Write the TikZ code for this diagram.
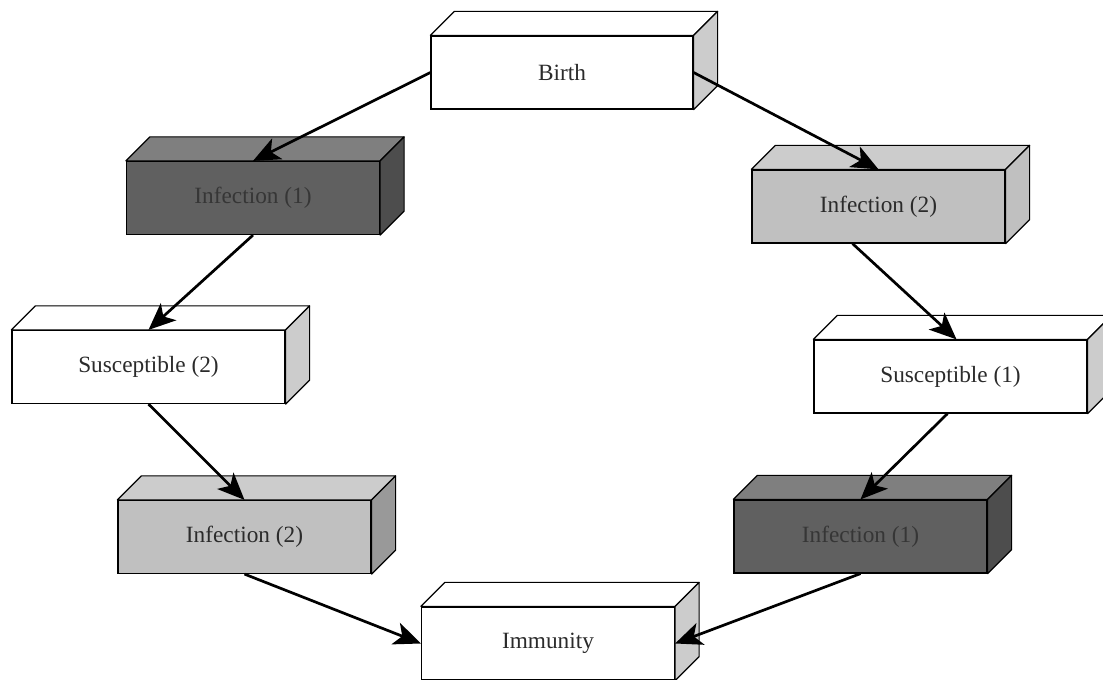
\documentclass[tikz,border=0pt]{standalone}
\usepackage{fontspec}
\setmainfont{Liberation Serif}
\usetikzlibrary{arrows.meta}

\definecolor{darkfront}{HTML}{606060}
\definecolor{darktop}{HTML}{7F7F7F}
\definecolor{darkside}{HTML}{4D4D4D}
\definecolor{lightfront}{HTML}{C0C0C0}
\definecolor{lighttop}{HTML}{CCCCCC}
\definecolor{lightside}{HTML}{999999}
\definecolor{whiteside}{HTML}{CCCCCC}
\definecolor{labeltext}{HTML}{2B2B2B}
\definecolor{darktext}{HTML}{363636}

\tikzset{
  box/.style={draw, line width=1.2pt, minimum width=253pt, minimum height=73pt,
    inner sep=0pt, text=labeltext, font=\fontsize{23.3}{28}\selectfont},
  whitebox/.style={box, fill=white},
  darkbox/.style={box, fill=darkfront, text=darktext},
  lightbox/.style={box, fill=lightfront},
  face/.style={draw, line width=1.2pt, line join=round},
  link/.style={-{Stealth[length=27pt,width=23pt,inset=7pt]}, line width=2.7pt},
}

\begin{document}
\begin{tikzpicture}[x=1pt,y=1pt]
\useasboundingbox (0,0) rectangle (1103,680);

% front faces
\node[whitebox, minimum width=262pt] (birth) at (562,607.5) {Birth};
\node[darkbox] (infA) at (253,482) {Infection (1)};
\node[lightbox] (infB) at (878.5,473.5) {Infection (2)};
\node[whitebox, minimum width=273pt] (susB) at (148.5,313) {Susceptible (2)};
\node[whitebox, minimum width=273pt] (susA) at (950.5,303.5) {Susceptible (1)};
\node[lightbox] (infC) at (244.5,143) {Infection (2)};
\node[darkbox] (infD) at (860.5,143.5) {Infection (1)};
\node[whitebox] (imm) at (548,36.5) {Immunity};

% top and side faces
\foreach \n/\t/\s in {birth/white/whiteside, infA/darktop/darkside,
    infB/lighttop/lightfront, susB/white/whiteside, susA/white/whiteside,
    infC/lighttop/lightside, infD/darktop/darkside, imm/white/whiteside} {
  \draw[face, fill=\t] (\n.north west) -- ++(24,24)
    -- ([shift={(24,24)}]\n.north east) -- (\n.north east) -- cycle;
  \draw[face, fill=\s] (\n.north east) -- ++(24,24)
    -- ([shift={(24,24)}]\n.south east) -- (\n.south east) -- cycle;
}

% arrows
\draw[link] (birth.west) -- (infA.north);
\draw[link] (birth.east) -- (infB.north);
\draw[link] (infA.south) -- (susB.north);
\draw[link] ([xshift=-26pt]infB.south) -- ([xshift=6pt]susA.north);
\draw[link] (susB.south) -- (infC.north);
\draw[link] ([xshift=-3pt]susA.south) -- (infD.north);
\draw[link] (infC.south) -- (imm.west);
\draw[link] (infD.south) -- (imm.east);
\end{tikzpicture}
\end{document}
